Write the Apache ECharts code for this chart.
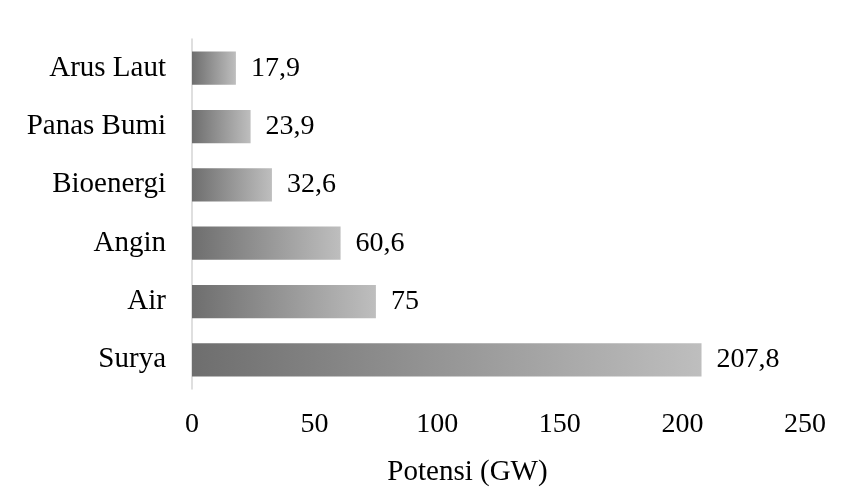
<!DOCTYPE html>
<html>
<head>
<meta charset="utf-8">
<script src="https://cdn.jsdelivr.net/npm/echarts@6/dist/echarts.min.js"></script>
<style>
  html, body { margin: 0; padding: 0; background: #ffffff; }
  #chart { width: 843px; height: 489px; }
</style>
</head>
<body>
<div id="chart"></div>
<script>
// Energy sources, listed bottom-to-top along the category axis
const categories = ['Surya', 'Air', 'Angin', 'Bioenergi', 'Panas Bumi', 'Arus Laut'];
// Potential capacity in GW
const potensi = [207.8, 75, 60.6, 32.6, 23.9, 17.9];
// Value axis ticks
const xTicks = [0, 50, 100, 150, 200, 250];

const FONT = '"Liberation Serif", "Times New Roman", serif';

const chart = echarts.init(document.getElementById('chart'), null, { renderer: 'canvas' });

chart.setOption({
  backgroundColor: '#ffffff',
  animation: false,
  grid: { left: 192, right: 38, top: 39, bottom: 100, containLabel: false, outerBoundsMode: 'none' },
  xAxis: {
    type: 'value',
    min: xTicks[0],
    max: xTicks[xTicks.length - 1],
    interval: xTicks[1] - xTicks[0],
    name: 'Potensi (GW)',
    nameLocation: 'middle',
    nameGap: 69,
    // right padding nudges the centred title a little to the left
    nameTextStyle: { fontFamily: FONT, fontSize: 29, color: '#000000', padding: [0, 62, 0, 0] },
    axisLine: { show: false },
    axisTick: { show: false },
    splitLine: { show: false },
    axisLabel: { fontFamily: FONT, fontSize: 28, color: '#000000', margin: 22 }
  },
  yAxis: {
    type: 'category',
    data: categories,
    axisLine: { show: true, lineStyle: { color: '#d4d4d4', width: 1.5 } },
    axisTick: { show: false },
    axisLabel: { fontFamily: FONT, fontSize: 29, color: '#000000', margin: 26 }
  },
  series: [{
    type: 'bar',
    data: potensi,
    barCategoryGap: '43%',
    itemStyle: {
      color: new echarts.graphic.LinearGradient(0, 0, 1, 0, [
        { offset: 0, color: '#6e6e6e' },
        { offset: 1, color: '#bebebe' }
      ])
    },
    label: {
      show: true,
      position: 'right',
      distance: 15,
      fontFamily: FONT,
      fontSize: 28,
      color: '#000000',
      formatter: p => String(p.value).replace('.', ',')
    }
  }]
});
</script>
</body>
</html>
